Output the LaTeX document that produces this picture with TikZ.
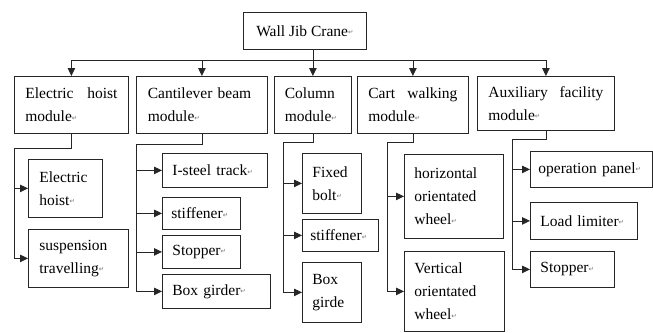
\documentclass[tikz,border=0pt]{standalone}
\usepackage{fontspec}
\setmainfont{Liberation Serif}
\newfontfamily\retfont{DejaVu Sans}
\usetikzlibrary{arrows.meta}
\newcommand{\retmark}{\raisebox{1.5pt}{\retfont\fontsize{6.5}{6.5}\selectfont\textcolor{black!55}{↵}}}
\tikzstyle{block} = [rectangle, draw=black!85, line width=0.8pt, anchor=north west, inner sep=0pt, align=left, font=\fontsize{15.5}{23}\selectfont]
\tikzstyle{line} = [line width=0.8pt, draw=black!85]
\tikzstyle{arrow} = [line width=0.8pt, draw=black!85, -{Triangle[length=8pt,width=7.5pt]}]

\begin{document}
\begin{tikzpicture}[x=1pt, y=-1pt]
        \useasboundingbox (0,0) rectangle (653,332);
        \node (top) [block, minimum width=123pt, minimum height=37pt, align=center] at (243,12) {Wall Jib Crane\retmark};

        \node (eh) [block, minimum width=114pt, minimum height=57pt, text width=92pt] at (14,76) {Electric\hfill hoist\\module\retmark};
        \node (cb) [block, minimum width=131pt, minimum height=57pt, text width=108pt] at (136,76) {Cantilever beam\\module\retmark};
        \node (col) [block, minimum width=77pt, minimum height=57pt, text width=56pt] at (274,76) {Column\\module\retmark};
        \node (cw) [block, minimum width=111pt, minimum height=57pt, text width=89pt] at (357,76) {Cart\hfill walking\\module\retmark};
        \node (af) [block, minimum width=137pt, minimum height=54pt, text width=115pt] at (477,76) {Auxiliary\hfill facility\\module\retmark};

        \node (ehh) [block, minimum width=74pt, minimum height=58pt, text width=52pt] at (28,159) {Electric\\hoist\retmark};
        \node (st) [block, minimum width=100pt, minimum height=58pt, text width=78pt] at (28,229) {suspension\\travelling\retmark};

        \node (ist) [block, minimum width=105pt, minimum height=34pt, text width=85pt] at (162,153) {I-steel track\retmark};
        \node (stf1) [block, minimum width=78pt, minimum height=32pt, text width=60pt] at (162,197) {stiffener\retmark};
        \node (stp1) [block, minimum width=78pt, minimum height=33pt, text width=58pt] at (162,235) {Stopper\retmark};
        \node (bg1) [block, minimum width=108pt, minimum height=34pt, text width=88pt] at (162,274) {Box girder\retmark};

        \node (fb) [block, minimum width=59pt, minimum height=60pt, text width=39pt] at (302,153) {Fixed\\bolt\retmark};
        \node (stf2) [block, minimum width=76pt, minimum height=32pt, text width=60pt] at (302,219) {stiffener\retmark};
        \node (bg2) [block, minimum width=59pt, minimum height=60pt, text width=39pt] at (302,262) {Box\\girde};

        \node (how) [block, minimum width=99pt, minimum height=84pt, text width=79pt] at (404,154) {horizontal\\orientated\\wheel\retmark};
        \node (vow) [block, minimum width=100pt, minimum height=80pt, text width=80pt] at (404,251) {Vertical\\orientated\\wheel\retmark};

        \node (op) [block, minimum width=122pt, minimum height=36pt, text width=106pt] at (530,151) {operation panel\retmark};
        \node (ll) [block, minimum width=107pt, minimum height=37pt, text width=87pt] at (530,202) {Load limiter\retmark};
        \node (stp2) [block, minimum width=84pt, minimum height=36pt, text width=64pt] at (530,251) {Stopper\retmark};

        \coordinate (bus) at (0,60);
        \coordinate (ehx) at (14,148);
        \coordinate (cbx) at (136,144);
        \coordinate (colx) at (283,142);
        \coordinate (cwx) at (387,142);
        \coordinate (afx) at (512,139);

        \draw [arrow] (top.south -| col.north) -- (col.north);
        \draw [line] (eh.north |- bus) -- (af.north |- bus);
        \foreach \m in {eh,cb,cw,af}
            \draw [arrow] (\m.north |- bus) -- (\m.north);

        \draw [line] (eh.south) |- (ehx) -- (ehx |- st.west);
        \foreach \c in {ehh,st}
            \draw [arrow] (ehx |- \c.west) -- (\c.west);
        \draw [line] (cb.south) |- (cbx) -- (cbx |- bg1.west);
        \foreach \c in {ist,stf1,stp1,bg1}
            \draw [arrow] (cbx |- \c.west) -- (\c.west);
        \draw [line] (col.south) |- (colx) -- (colx |- bg2.west);
        \foreach \c in {fb,stf2,bg2}
            \draw [arrow] (colx |- \c.west) -- (\c.west);
        \draw [line] (cw.south) |- (cwx) -- (cwx |- vow.west);
        \foreach \c in {how,vow}
            \draw [arrow] (cwx |- \c.west) -- (\c.west);
        \draw [line] (af.south) |- (afx) -- (afx |- stp2.west);
        \foreach \c in {op,ll,stp2}
            \draw [arrow] (afx |- \c.west) -- (\c.west);
\end{tikzpicture}
\end{document}
